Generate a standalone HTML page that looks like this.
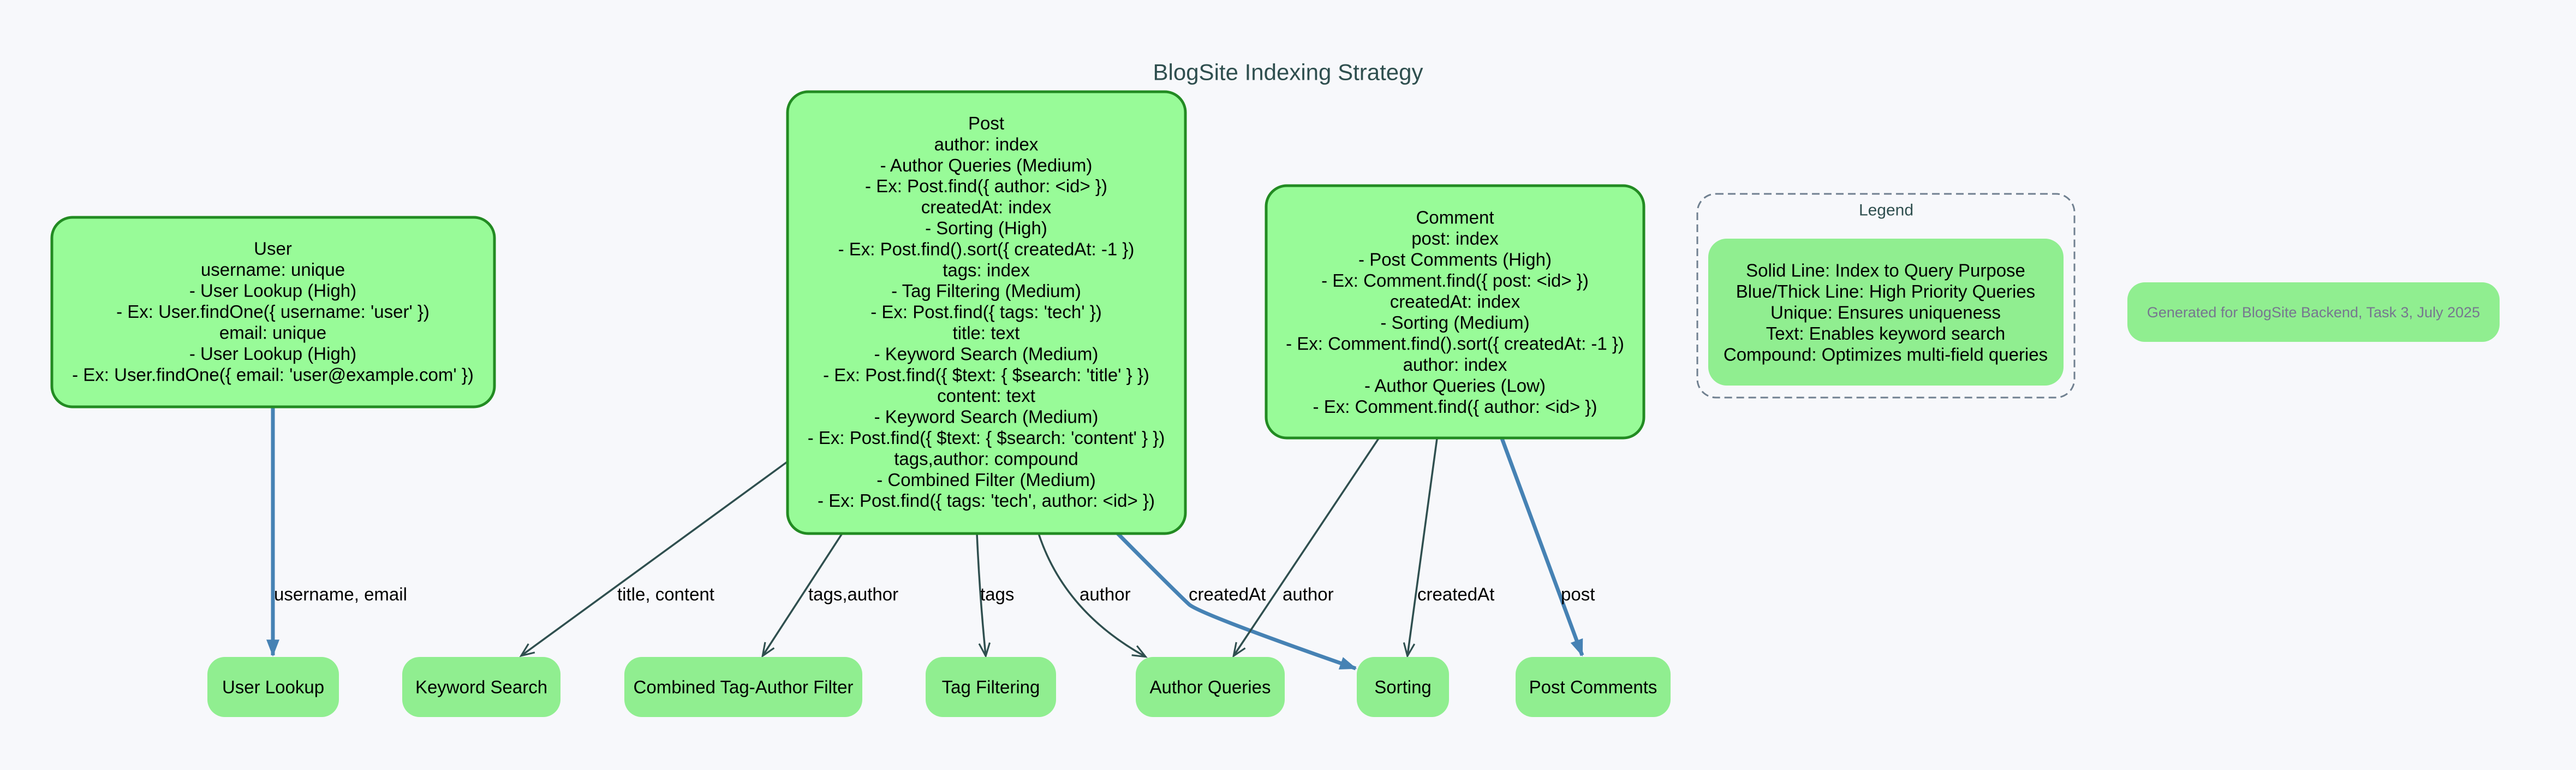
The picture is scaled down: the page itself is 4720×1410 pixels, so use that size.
<!DOCTYPE html>
<html><head><meta charset="utf-8"><style>
html,body{margin:0;padding:0;background:#f7f8fb;}
svg{display:block;font-family:"Liberation Sans",Arial,sans-serif;}
</style></head><body>
<svg width="4720" height="1410" viewBox="0 0 4720 1410" xmlns="http://www.w3.org/2000/svg">
<defs>
<marker id="ad" viewBox="0 0 20 20" refX="18" refY="10" markerWidth="14" markerHeight="14" markerUnits="userSpaceOnUse" orient="auto" overflow="visible">
<path d="M-14,-4 L20,10 L-14,24" fill="none" stroke="#2f4f4f" stroke-width="4.5"/>
</marker>
<marker id="ab" viewBox="0 0 20 20" refX="18" refY="10" markerWidth="24" markerHeight="24" markerUnits="userSpaceOnUse" orient="auto" overflow="visible">
<path d="M-6,0 L20,10 L-6,20 Z" fill="#4682b4"/>
</marker>
</defs>
<rect width="4720" height="1410" fill="#f7f8fb"/>
<text x="2360" y="132" font-size="42" fill="#2f4f4f" text-anchor="middle" dominant-baseline="central">BlogSite Indexing Strategy</text>

<g fill="none">
<path d="M500,745 L500,1200" stroke="#4682b4" stroke-width="7" marker-end="url(#ab)"/>
<path d="M1442,846 L956,1200" stroke="#2f4f4f" stroke-width="3.5" marker-end="url(#ad)"/>
<path d="M1543,977 L1398,1200" stroke="#2f4f4f" stroke-width="3.5" marker-end="url(#ad)"/>
<path d="M1790,977 Q1795,1090 1806,1200" stroke="#2f4f4f" stroke-width="3.5" marker-end="url(#ad)"/>
<path d="M1903,977 Q1950,1120 2098,1202" stroke="#2f4f4f" stroke-width="3.5" marker-end="url(#ad)"/>
<path d="M2048,977 Q2150,1080 2179,1107 Q2200,1125 2484,1224" stroke="#4682b4" stroke-width="7" marker-end="url(#ab)"/>
<path d="M2526,803 L2261,1200" stroke="#2f4f4f" stroke-width="3.5" marker-end="url(#ad)"/>
<path d="M2633,803 L2579,1200" stroke="#2f4f4f" stroke-width="3.5" marker-end="url(#ad)"/>
<path d="M2752,803 L2899,1200" stroke="#4682b4" stroke-width="7" marker-end="url(#ab)"/>
</g>
<g font-size="33" fill="#000" dominant-baseline="central">
<text x="502" y="1088">username, email</text>
<text x="1131" y="1088">title, content</text>
<text x="1481" y="1088">tags,author</text>
<text x="1796" y="1088">tags</text>
<text x="1978" y="1088">author</text>
<text x="2178" y="1088">createdAt</text>
<text x="2350" y="1088">author</text>
<text x="2597" y="1088">createdAt</text>
<text x="2860" y="1088">post</text>
</g>

<g stroke="#228b22" stroke-width="5" fill="#98fb98">
<rect x="95" y="398" width="811" height="347" rx="38"/>
<rect x="1443" y="168" width="729" height="809" rx="38"/>
<rect x="2320" y="340" width="692" height="462" rx="38"/>
</g>
<g font-size="33" fill="#000" text-anchor="middle" dominant-baseline="central">
<text x="500" y="455">User</text>
<text x="500" y="493.5">username: unique</text>
<text x="500" y="532">- User Lookup (High)</text>
<text x="500" y="570.5">- Ex: User.findOne({ username: 'user' })</text>
<text x="500" y="609">email: unique</text>
<text x="500" y="647.5">- User Lookup (High)</text>
<text x="500" y="686">- Ex: User.findOne({ email: 'user@example.com' })</text>
</g>
<g font-size="33" fill="#000" text-anchor="middle" dominant-baseline="central">
<text x="1807" y="225.5">Post</text>
<text x="1807" y="263.9">author: index</text>
<text x="1807" y="302.3">- Author Queries (Medium)</text>
<text x="1807" y="340.7">- Ex: Post.find({ author: &lt;id&gt; })</text>
<text x="1807" y="379.1">createdAt: index</text>
<text x="1807" y="417.5">- Sorting (High)</text>
<text x="1807" y="455.9">- Ex: Post.find().sort({ createdAt: -1 })</text>
<text x="1807" y="494.3">tags: index</text>
<text x="1807" y="532.7">- Tag Filtering (Medium)</text>
<text x="1807" y="571.1">- Ex: Post.find({ tags: 'tech' })</text>
<text x="1807" y="609.5">title: text</text>
<text x="1807" y="647.9">- Keyword Search (Medium)</text>
<text x="1807" y="686.3">- Ex: Post.find({ $text: { $search: 'title' } })</text>
<text x="1807" y="724.7">content: text</text>
<text x="1807" y="763.1">- Keyword Search (Medium)</text>
<text x="1807" y="801.5">- Ex: Post.find({ $text: { $search: 'content' } })</text>
<text x="1807" y="839.9">tags,author: compound</text>
<text x="1807" y="878.3">- Combined Filter (Medium)</text>
<text x="1807" y="916.7">- Ex: Post.find({ tags: 'tech', author: &lt;id&gt; })</text>
</g>
<g font-size="33" fill="#000" text-anchor="middle" dominant-baseline="central">
<text x="2666" y="398">Comment</text>
<text x="2666" y="436.5">post: index</text>
<text x="2666" y="475">- Post Comments (High)</text>
<text x="2666" y="513.5">- Ex: Comment.find({ post: &lt;id&gt; })</text>
<text x="2666" y="552">createdAt: index</text>
<text x="2666" y="590.5">- Sorting (Medium)</text>
<text x="2666" y="629">- Ex: Comment.find().sort({ createdAt: -1 })</text>
<text x="2666" y="667.5">author: index</text>
<text x="2666" y="706">- Author Queries (Low)</text>
<text x="2666" y="744.5">- Ex: Comment.find({ author: &lt;id&gt; })</text>
</g>

<g fill="#90ee90">
<rect x="380" y="1203" width="241" height="110" rx="32"/>
<rect x="737" y="1203" width="290" height="110" rx="32"/>
<rect x="1144" y="1203" width="436" height="110" rx="32"/>
<rect x="1696" y="1203" width="239" height="110" rx="32"/>
<rect x="2081" y="1203" width="273" height="110" rx="32"/>
<rect x="2486" y="1203" width="169" height="110" rx="32"/>
<rect x="2777" y="1203" width="284" height="110" rx="32"/>
</g>
<g font-size="33" fill="#000" text-anchor="middle" dominant-baseline="central">
<text x="500.5" y="1258">User Lookup</text>
<text x="882" y="1258">Keyword Search</text>
<text x="1362" y="1258">Combined Tag-Author Filter</text>
<text x="1815.5" y="1258">Tag Filtering</text>
<text x="2217.5" y="1258">Author Queries</text>
<text x="2570.5" y="1258">Sorting</text>
<text x="2919" y="1258">Post Comments</text>
</g>

<rect x="3110" y="355" width="691" height="373" rx="34" fill="none" stroke="#708090" stroke-width="3" stroke-dasharray="14,8"/>
<text x="3456" y="385" font-size="30" fill="#2f4f4f" text-anchor="middle" dominant-baseline="central">Legend</text>
<rect x="3130" y="437" width="651" height="269" rx="34" fill="#90ee90"/>
<g font-size="33" fill="#000" text-anchor="middle" dominant-baseline="central">
<text x="3455" y="495">Solid Line: Index to Query Purpose</text>
<text x="3455" y="533.5">Blue/Thick Line: High Priority Queries</text>
<text x="3455" y="572">Unique: Ensures uniqueness</text>
<text x="3455" y="610.5">Text: Enables keyword search</text>
<text x="3455" y="649">Compound: Optimizes multi-field queries</text>
</g>
<rect x="3898" y="517" width="682" height="109" rx="32" fill="#90ee90"/>
<text x="4239" y="572" font-size="27" fill="#76768f" text-anchor="middle" dominant-baseline="central">Generated for BlogSite Backend, Task 3, July 2025</text>
</svg>
</body></html>
